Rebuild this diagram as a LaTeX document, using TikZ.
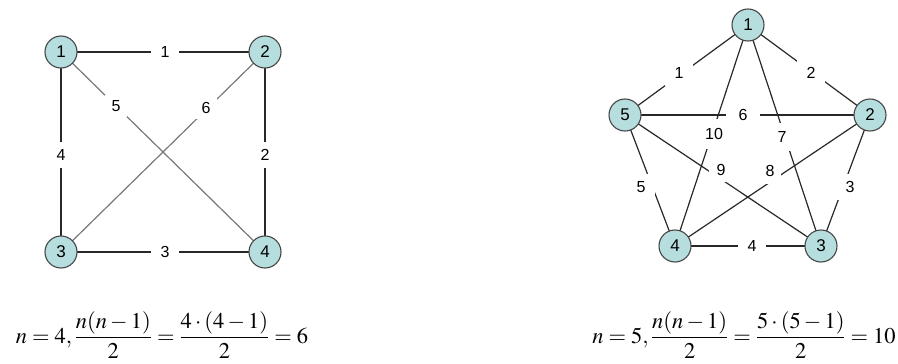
\documentclass[tikz,border=0pt]{standalone}
\usepackage{amsmath}
\usepackage{mathptmx}
\usepackage[no-math]{fontspec}
\newfontfamily\arialfont{Liberation Sans}
\definecolor{nodefill}{RGB}{182,222,222}
\definecolor{nodedraw}{RGB}{70,70,70}
\definecolor{sidecol}{RGB}{40,40,40}
\definecolor{diagcol}{RGB}{120,120,120}
\tikzset{
  vert/.style={circle, draw=nodedraw, fill=nodefill, line width=1.1pt, minimum size=32pt, inner sep=0pt, font=\arialfont\fontsize{17}{17}\selectfont},
  elabel/.style={fill=white, inner sep=0pt, minimum width=28pt, minimum height=26pt, font=\arialfont\fontsize{16}{16}\selectfont},
  side/.style={draw=sidecol, line width=1.2pt},
  diag/.style={draw=diagcol, line width=1.2pt},
  formula/.style={inner sep=0pt, font=\fontsize{22.5}{26}\selectfont}
}
\begin{document}
\begin{tikzpicture}[x=1pt, y=-1pt]
\useasboundingbox (0,0) rectangle (898,364);
% left graph
\coordinate (La) at (61,52);
\coordinate (Lb) at (265,52);
\coordinate (Lc) at (61,252);
\coordinate (Ld) at (265,252);
\draw[side] (La) -- (Lb);
\draw[side] (Lb) -- (Ld);
\draw[side] (Lc) -- (Ld);
\draw[side] (La) -- (Lc);
\draw[diag] (La) -- (Ld);
\draw[diag] (Lb) -- (Lc);
\node[elabel] (l1) at (165,52) {1};
\node[elabel] (l2) at (265,155) {2};
\node[elabel] (l3) at (165,252) {3};
\node[elabel] (l4) at (61,155) {4};
\node[elabel, minimum width=22pt, minimum height=22pt] (l5) at (116,106) {5};
\node[elabel, minimum width=22pt, minimum height=22pt] (l6) at (206,108) {6};
\node[vert] (A1) at (La) {1};
\node[vert] (A2) at (Lb) {2};
\node[vert] (A3) at (Lc) {3};
\node[vert] (A4) at (Ld) {4};
% right graph
\coordinate (Ra) at (748,25);
\coordinate (Rb) at (870,115);
\coordinate (Rc) at (821,246);
\coordinate (Rd) at (675,246);
\coordinate (Re) at (625,115);
\draw[side] (Ra) -- (Re);
\draw[side] (Ra) -- (Rb);
\draw[side] (Rb) -- (Rc);
\draw[side] (Rc) -- (Rd);
\draw[side] (Rd) -- (Re);
\draw[side] (Re) -- (Rb);
\draw[side] (Ra) -- (Rc);
\draw[side] (Rb) -- (Rd);
\draw[side] (Re) -- (Rc);
\draw[side] (Ra) -- (Rd);
\node[elabel] (r1) at (679,73) {1};
\node[elabel] (r2) at (811,73) {2};
\node[elabel] (r3) at (850,187) {3};
\node[elabel] (r4) at (752,246) {4};
\node[elabel] (r5) at (641,187) {5};
\node[elabel, minimum width=34pt, minimum height=20pt] (r6) at (743,115) {6};
\node[elabel, minimum width=20pt, minimum height=28pt] (r7) at (782,137) {7};
\node[elabel, minimum width=22pt, minimum height=26pt] (r8) at (770,171) {8};
\node[elabel, minimum width=24pt, minimum height=24pt] (r9) at (721,170) {9};
\node[elabel, minimum width=22pt, minimum height=30pt] (r10) at (714,134) {10};
\node[vert] (B1) at (Ra) {1};
\node[vert] (B2) at (Rb) {2};
\node[vert] (B3) at (Rc) {3};
\node[vert] (B4) at (Rd) {4};
\node[vert] (B5) at (Re) {5};
% formulas
\node[formula] (f1) at (162,335) {$n=4,\dfrac{n(n-1)}{2}=\dfrac{4\cdot(4-1)}{2}=6$};
\node[formula] (f2) at (744,335) {$n=5,\dfrac{n(n-1)}{2}=\dfrac{5\cdot(5-1)}{2}=10$};
\end{tikzpicture}
\end{document}
